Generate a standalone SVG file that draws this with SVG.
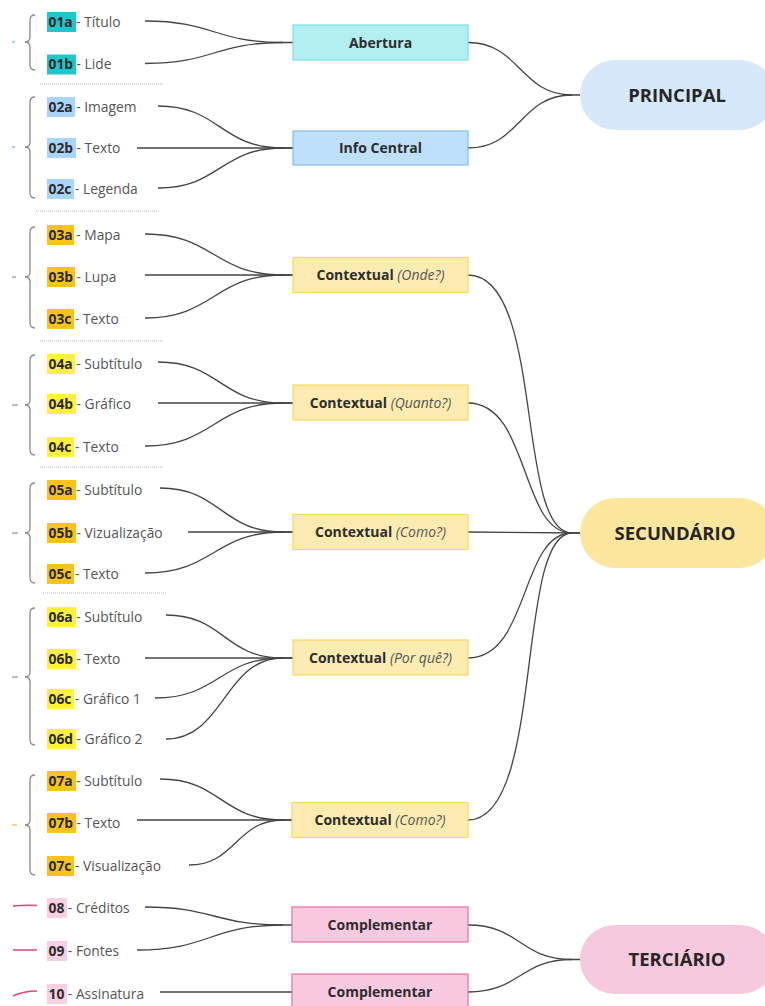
<svg xmlns="http://www.w3.org/2000/svg" width="765" height="1006" viewBox="0 0 765 1006">
<style>
text{font-family:"Open Sans","Noto Sans","Liberation Sans",sans-serif}
.lbl{font-size:13.8px;fill:#555}
.code{font-weight:700;fill:#2b2b2b}
.box{stroke-width:1.2}
.bt{font-size:14px;font-weight:700;fill:#2d2d2d;text-anchor:middle}
.it{font-weight:400;font-style:italic;fill:#555}
.pt{font-size:18.5px;font-weight:700;fill:#262626;text-anchor:middle}
.con path{fill:none;stroke:#444;stroke-width:1.3}
.brace{fill:none;stroke:#8a8a8a;stroke-width:1.3}
.sep{stroke:#b5b5b5;stroke-width:1;stroke-dasharray:1 1}
.hA{fill:#20c6c9}.hB{fill:#a9d5fa}.hC{fill:#f9c31a}.hD{fill:#fff13c}.hE{fill:#f9cfe3}
.bA{fill:#b3eff0;stroke:#74dfe3}.bB{fill:#bee0fa;stroke:#80bff1}.bC{fill:#fdecb1;stroke:#f9d85f}.bE{fill:#f8c9df;stroke:#ea6fa5}
</style>

<!-- decorations: braces, ticks, separators -->
<g id="decor">
<path class="brace" d="M35,15 Q30,15 30,20 L30,37 Q30,42 25,42 Q30,42 30,47 L30,65 Q30,70 35,70"/>
<path class="brace" d="M35,97 Q30,97 30,102 L30,142 Q30,147 25,147 Q30,147 30,152 L30,193 Q30,198 35,198"/>
<path class="brace" d="M35,227 Q30,227 30,232 L30,272 Q30,277 25,277 Q30,277 30,282 L30,323 Q30,328 35,328"/>
<path class="brace" d="M35,355 Q30,355 30,360 L30,400 Q30,405 25,405 Q30,405 30,410 L30,450 Q30,455 35,455"/>
<path class="brace" d="M35,483 Q30,483 30,488 L30,528 Q30,533 25,533 Q30,533 30,538 L30,578 Q30,583 35,583"/>
<path class="brace" d="M35,608 Q30,608 30,613 L30,672 Q30,677 25,677 Q30,677 30,682 L30,740 Q30,745 35,745"/>
<path class="brace" d="M35,775 Q30,775 30,780 L30,820 Q30,825 25,825 Q30,825 30,830 L30,870 Q30,875 35,875"/>
<line x1="12" y1="42" x2="15" y2="42" stroke="#4cc9d9" stroke-width="1.3"/>
<line x1="12" y1="147" x2="15" y2="147" stroke="#66aee6" stroke-width="1.3"/>
<line x1="12" y1="277" x2="16" y2="277" stroke="#999" stroke-width="1.3"/>
<line x1="12" y1="405" x2="18" y2="405" stroke="#999" stroke-width="1.3"/>
<line x1="12" y1="533" x2="18" y2="533" stroke="#999" stroke-width="1.3"/>
<line x1="12" y1="677" x2="18" y2="677" stroke="#999" stroke-width="1.3"/>
<line x1="12" y1="825" x2="17" y2="825" stroke="#f0c53a" stroke-width="1.3"/>
<path d="M13,906 Q25,905 37,905.5" fill="none" stroke="#e0457f" stroke-width="1.5"/>
<path d="M13,950 L37,950" fill="none" stroke="#e0457f" stroke-width="1.5"/>
<path d="M13,996 Q24,991 37,991" fill="none" stroke="#e0457f" stroke-width="1.5"/>
<line class="sep" x1="40" y1="84" x2="164" y2="84"/>
<line class="sep" x1="36" y1="211" x2="159" y2="211"/>
<line class="sep" x1="40" y1="341" x2="163" y2="341"/>
<line class="sep" x1="40" y1="467" x2="163" y2="467"/>
<line class="sep" x1="43" y1="593" x2="167" y2="593"/>
</g>

<!-- connectors -->
<g id="connectors" class="con">
<path d="M145,21 C214,21 214,42.5 283,42.5 L293,42.5"/>
<path d="M145,63.5 C214,63.5 214,42.5 283,42.5"/>
<path d="M158,106 C220,106 220,148 283,148 L293,148"/>
<path d="M137,148 L293,148"/>
<path d="M158,188 C220,188 220,148 283,148"/>
<path d="M145,234 C214,234 214,275 283,275 L293,275"/>
<path d="M145,275 L293,275"/>
<path d="M145,318 C214,318 214,275 283,275"/>
<path d="M158,362 C220,362 220,403 283,403 L293,403"/>
<path d="M158,403 L293,403"/>
<path d="M145,446 C214,446 214,403 283,403"/>
<path d="M160,488 C221,488 221,532 283,532 L293,532"/>
<path d="M188,532 L293,532"/>
<path d="M145,573 C214,573 214,532 283,532"/>
<path d="M166,615 C224,615 224,658 283,658 L293,658"/>
<path d="M145,658 L293,658"/>
<path d="M155,698 C219,698 219,658 283,658"/>
<path d="M166,739 C224,739 224,658 283,658"/>
<path d="M160,779 C221,779 221,820 283,820 L293,820"/>
<path d="M137,820 L293,820"/>
<path d="M189,865 C236,865 236,820 283,820"/>
<path d="M145,907 C214,907 214,925 283,925 L293,925"/>
<path d="M137,950 C210,950 210,925 283,925"/>
<path d="M160,992 L293,992"/>
<path d="M468,42.5 C520,42.5 520,95 572,95 L580,95"/>
<path d="M468,148 C520,148 520,95 572,95"/>
<path d="M468,275 C545,275 515,533 572,533 L580,533"/>
<path d="M468,403 C530,403 520,533 572,533"/>
<path d="M468,532 L580,533"/>
<path d="M468,658 C530,658 520,533 572,533"/>
<path d="M468,820 C545,820 515,533 572,533"/>
<path d="M468,925 C520,925 520,959.5 572,959.5 L580,959.5"/>
<path d="M468,992 C520,992 520,959.5 572,959.5"/>
</g>

<!-- leaf labels -->
<g id="n01a"><rect class="hA" x="47" y="12" width="29" height="20"/><text class="lbl" x="48.5" y="26.8"><tspan class="code">01a</tspan> - Título</text></g>
<g id="n01b"><rect class="hA" x="47" y="54.5" width="29" height="20"/><text class="lbl" x="48.5" y="69.3"><tspan class="code">01b</tspan> - Lide</text></g>
<g id="n02a"><rect class="hB" x="47" y="97" width="28" height="20"/><text class="lbl" x="48.5" y="111.8"><tspan class="code">02a</tspan> - Imagem</text></g>
<g id="n02b"><rect class="hB" x="47" y="138" width="29" height="20"/><text class="lbl" x="48.5" y="152.8"><tspan class="code">02b</tspan> - Texto</text></g>
<g id="n02c"><rect class="hB" x="47" y="179" width="27" height="20"/><text class="lbl" x="48.5" y="193.8"><tspan class="code">02c</tspan> - Legenda</text></g>
<g id="n03a"><rect class="hC" x="47" y="225" width="27" height="20"/><text class="lbl" x="48.5" y="239.8"><tspan class="code">03a</tspan> - Mapa</text></g>
<g id="n03b"><rect class="hC" x="47" y="267" width="28" height="20"/><text class="lbl" x="48.5" y="281.8"><tspan class="code">03b</tspan> - Lupa</text></g>
<g id="n03c"><rect class="hC" x="47" y="309" width="27" height="20"/><text class="lbl" x="48.5" y="323.8"><tspan class="code">03c</tspan> - Texto</text></g>
<g id="n04a"><rect class="hD" x="47" y="354" width="28" height="20"/><text class="lbl" x="48.5" y="368.8"><tspan class="code">04a</tspan> - Subtítulo</text></g>
<g id="n04b"><rect class="hD" x="47" y="394" width="29" height="20"/><text class="lbl" x="48.5" y="408.8"><tspan class="code">04b</tspan> - Gráfico</text></g>
<g id="n04c"><rect class="hD" x="47" y="437" width="27" height="20"/><text class="lbl" x="48.5" y="451.8"><tspan class="code">04c</tspan> - Texto</text></g>
<g id="n05a"><rect class="hC" x="47" y="480" width="29" height="20"/><text class="lbl" x="48.5" y="494.8"><tspan class="code">05a</tspan> - Subtítulo</text></g>
<g id="n05b"><rect class="hC" x="47" y="523" width="29" height="20"/><text class="lbl" x="48.5" y="537.8"><tspan class="code">05b</tspan> - Vizualização</text></g>
<g id="n05c"><rect class="hC" x="47" y="564" width="27" height="20"/><text class="lbl" x="48.5" y="578.8"><tspan class="code">05c</tspan> - Texto</text></g>
<g id="n06a"><rect class="hD" x="47" y="607" width="29" height="20"/><text class="lbl" x="48.5" y="621.8"><tspan class="code">06a</tspan> - Subtítulo</text></g>
<g id="n06b"><rect class="hD" x="47" y="649" width="29" height="20"/><text class="lbl" x="48.5" y="663.8"><tspan class="code">06b</tspan> - Texto</text></g>
<g id="n06c"><rect class="hD" x="47" y="689" width="27" height="20"/><text class="lbl" x="48.5" y="703.8"><tspan class="code">06c</tspan> - Gráfico 1</text></g>
<g id="n06d"><rect class="hD" x="47" y="729" width="29" height="20"/><text class="lbl" x="48.5" y="743.8"><tspan class="code">06d</tspan> - Gráfico 2</text></g>
<g id="n07a"><rect class="hC" x="47" y="771" width="29" height="20"/><text class="lbl" x="48.5" y="785.8"><tspan class="code">07a</tspan> - Subtítulo</text></g>
<g id="n07b"><rect class="hC" x="47" y="813" width="29" height="20"/><text class="lbl" x="48.5" y="827.8"><tspan class="code">07b</tspan> - Texto</text></g>
<g id="n07c"><rect class="hC" x="47" y="856" width="27" height="20"/><text class="lbl" x="48.5" y="870.8"><tspan class="code">07c</tspan> - Visualização</text></g>
<g id="n08"><rect class="hE" x="47" y="898" width="20" height="20"/><text class="lbl" x="48.5" y="912.8"><tspan class="code">08</tspan> - Créditos</text></g>
<g id="n09"><rect class="hE" x="47" y="941" width="20" height="20"/><text class="lbl" x="48.5" y="955.8"><tspan class="code">09</tspan> - Fontes</text></g>
<g id="n10"><rect class="hE" x="47" y="984" width="20" height="20"/><text class="lbl" x="48.5" y="998.8"><tspan class="code">10</tspan> - Assinatura</text></g>

<!-- middle boxes -->
<g id="abertura"><rect class="box bA" x="293" y="25" width="175" height="35"/><text class="bt" x="380.5" y="47.7">Abertura</text></g>
<g id="info-central"><rect class="box bB" x="293" y="131" width="175" height="34"/><text class="bt" x="380.5" y="153.2">Info Central</text></g>
<g id="ctx-onde"><rect class="box bC" x="293" y="257.5" width="175" height="35"/><text class="bt" x="380.5" y="280.2">Contextual <tspan class="it">(Onde?)</tspan></text></g>
<g id="ctx-quanto"><rect class="box bC" x="293" y="385" width="175" height="35"/><text class="bt" x="380.5" y="407.7">Contextual <tspan class="it">(Quanto?)</tspan></text></g>
<g id="ctx-como1"><rect class="box bC" x="293" y="514.5" width="175" height="35"/><text class="bt" x="380.5" y="537.2">Contextual <tspan class="it">(Como?)</tspan></text></g>
<g id="ctx-porque"><rect class="box bC" x="293" y="640" width="175" height="35"/><text class="bt" x="380.5" y="662.7">Contextual <tspan class="it">(Por quê?)</tspan></text></g>
<g id="ctx-como2"><rect class="box bC" x="292" y="802.5" width="176" height="35"/><text class="bt" x="380" y="825.2">Contextual <tspan class="it">(Como?)</tspan></text></g>
<g id="complementar1"><rect class="box bE" x="292" y="907" width="176" height="35"/><text class="bt" x="380" y="929.7">Complementar</text></g>
<g id="complementar2"><rect class="box bE" x="292" y="974" width="176" height="35"/><text class="bt" x="380" y="996.7">Complementar</text></g>

<!-- main pills -->
<g id="principal"><rect x="580" y="60" width="195" height="70" rx="35" fill="#d5e9fa"/><text class="pt" x="677" y="101.8">PRINCIPAL</text></g>
<g id="secundario"><rect x="580" y="498" width="195" height="70" rx="35" fill="#fde79e"/><text class="pt" x="675" y="539.8">SECUNDÁRIO</text></g>
<g id="terciario"><rect x="580" y="925" width="195" height="69" rx="34.5" fill="#f7c9de"/><text class="pt" x="677" y="966.3">TERCIÁRIO</text></g>
</svg>
